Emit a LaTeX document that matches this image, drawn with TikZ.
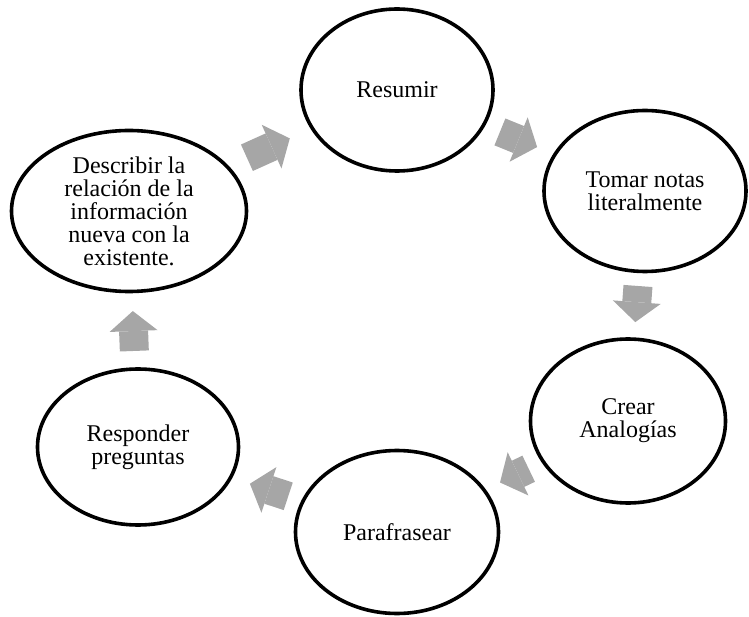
\documentclass[tikz,border=0pt]{standalone}
\usepackage{fontspec}
\setmainfont{Liberation Serif}
\usetikzlibrary{calc,arrows.meta,shapes.geometric}
\definecolor{grisflecha}{RGB}{166,166,166}

\begin{document}
\begin{tikzpicture}[x=1pt,y=-1pt,
  paso/.style={draw,ellipse,line width=3.6pt,inner sep=0pt,align=center,
    font=\fontsize{24}{23}\selectfont},
  flecha/.style={grisflecha,line width=29pt,
    -{Triangle[length=20pt,width=48pt,line width=0pt]}}]
  \useasboundingbox (0,0) rectangle (749,617);
  \node[paso,minimum width=192pt,minimum height=162pt] (res) at (397,90) {Resumir};
  \node[paso,minimum width=202pt,minimum height=161pt] (tom) at (645,191) {Tomar notas\\literalmente};
  \node[paso,minimum width=195pt,minimum height=164pt] (cre) at (628,421) {Crear\\Analogías};
  \node[paso,minimum width=203pt,minimum height=163pt] (par) at (397,532) {Parafrasear};
  \node[paso,minimum width=201pt,minimum height=156pt] (resp) at (138,447) {Responder\\preguntas};
  \node[paso,minimum width=235pt,minimum height=161pt] (desc) at (129,211) {Describir la\\relación de la\\información\\nueva con la\\existente.};
  % flechas del ciclo
  \draw[flecha] ($(desc)!0.44!(res)$) -- ($(desc)!0.60!(res)$);
  \draw[flecha] ($(res)!0.415!(tom)$) -- ($(res)!0.565!(tom)$);
  \draw[flecha] ($(tom)!0.413!(cre)$) -- ($(tom)!0.57!(cre)$);
  \draw[flecha] ($(cre)!0.43!(par)$) -- ($(cre)!0.554!(par)$);
  \draw[flecha] ($(par)!0.42!(resp)$) -- ($(par)!0.568!(resp)$);
  \draw[flecha] ($(resp)!0.407!(desc)$) -- ($(resp)!0.576!(desc)$);
\end{tikzpicture}
\end{document}
